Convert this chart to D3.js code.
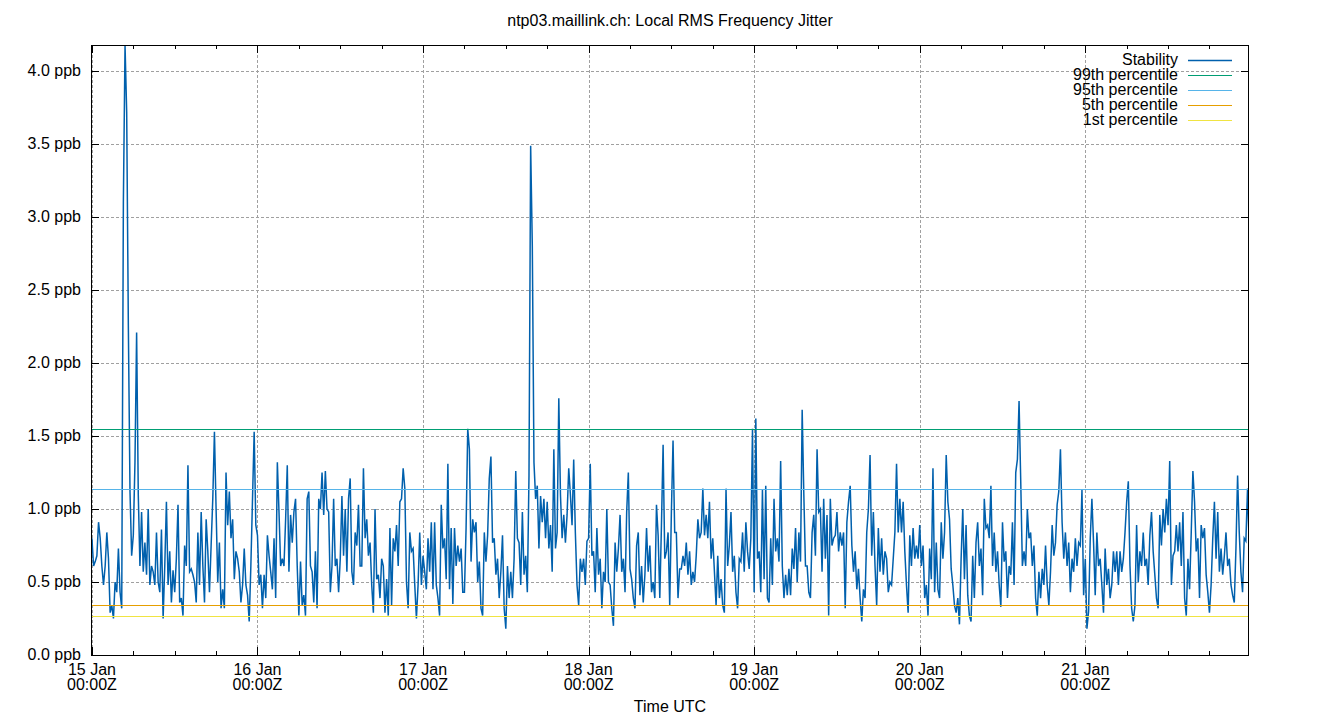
<!DOCTYPE html>
<html>
<head>
<meta charset="utf-8">
<script src="https://cdn.jsdelivr.net/npm/d3@7"></script>
<style>
  body { margin: 0; background: #fff; }
  svg text { font-family: "Liberation Sans", Arial, sans-serif; font-size: 16px; fill: #000; }
</style>
</head>
<body>
<div id="area"></div>
<script>
// stability values (ppb), 100 samples per day
var day15 = [0.80,0.61,0.64,0.68,0.91,0.80,0.61,0.48,0.61,0.84,0.66,0.29,0.34,0.25,0.50,0.43,0.73,0.43,0.32,3.11,
             4.18,3.72,2.26,1.12,0.68,0.82,1.32,2.21,1.10,0.61,0.98,0.57,0.77,0.55,1.00,0.48,0.61,0.57,0.48,0.84,
             0.50,0.43,0.86,0.25,0.61,1.05,0.48,0.71,0.36,0.58,0.43,0.66,1.03,0.36,0.39,0.27,0.75,0.61,1.30,0.57,
             0.59,0.55,0.50,0.36,0.84,0.48,0.98,0.61,0.36,0.93,0.71,0.43,0.75,1.07,1.53,1.00,0.50,0.77,0.32,0.45,
             0.32,1.25,0.89,1.12,0.80,0.93,0.52,0.71,0.66,0.57,0.36,0.48,0.73,0.48,0.41,0.23,0.61,1.07,1.53,0.89];
var day16 = [0.82,0.48,0.55,0.32,0.55,0.39,0.82,0.68,0.57,0.45,0.80,0.39,1.32,0.98,0.61,0.66,0.61,0.93,1.30,0.57,
             0.96,0.77,0.98,1.07,0.61,0.27,0.64,0.34,0.41,0.27,1.07,1.12,0.61,0.57,0.36,0.71,0.32,1.07,1.00,1.25,
             0.96,1.26,1.00,0.98,0.43,0.61,1.07,0.61,0.66,0.43,0.66,1.09,0.68,1.00,0.57,1.07,1.21,0.57,0.48,0.84,
             0.75,1.03,0.61,0.61,1.28,0.80,0.93,0.68,0.77,0.48,0.29,1.00,0.52,0.55,0.39,0.66,0.61,0.29,0.52,0.27,
             0.87,0.34,0.80,0.71,0.89,0.61,1.05,1.07,1.28,1.14,0.50,0.32,0.84,0.71,0.73,0.48,0.25,0.48,0.84,0.48];
var day17 = [0.68,0.57,0.45,0.80,0.57,0.91,0.45,0.91,0.48,0.39,0.27,1.03,0.73,0.80,0.52,1.31,0.45,0.87,0.35,0.87,
             0.61,0.75,0.64,0.73,0.43,0.43,0.87,1.55,1.41,0.64,0.93,0.84,0.91,0.50,0.64,0.32,0.27,0.84,0.64,0.82,
             1.21,1.36,0.77,0.80,0.55,0.66,0.39,0.57,0.82,0.32,0.18,0.61,0.39,0.57,0.39,0.66,1.26,0.80,0.77,0.48,
             0.98,0.55,0.68,0.43,1.23,3.49,2.80,1.32,1.07,1.16,0.73,1.09,0.91,1.07,0.80,1.05,0.73,0.89,0.57,1.41,
             0.73,0.84,1.76,1.10,0.80,0.96,0.77,0.96,1.28,1.10,0.89,1.34,0.84,0.48,0.34,0.66,0.57,0.66,0.48,0.78];
var day18 = [0.80,1.31,0.68,0.71,0.43,0.87,0.55,0.66,0.32,0.57,0.50,1.00,0.50,0.48,0.32,0.20,0.77,0.57,0.73,0.96,
             0.57,0.66,0.43,0.98,1.25,0.59,0.52,0.39,0.32,0.75,0.84,0.41,0.61,0.36,0.55,0.87,0.57,0.75,0.43,0.50,
             0.39,1.03,0.82,0.39,0.89,1.44,0.66,0.71,0.84,0.34,0.98,1.47,0.84,0.84,0.39,0.59,0.59,0.68,0.61,0.77,
             0.55,0.71,0.48,0.57,0.50,0.68,0.93,0.80,0.84,1.14,0.82,0.96,0.80,1.05,0.66,0.80,0.57,0.34,0.68,0.39,
             0.52,0.34,0.29,1.14,0.61,0.75,0.98,0.57,0.68,0.43,0.32,0.66,0.64,0.84,0.57,0.91,0.71,0.59,0.80,1.55];
var day19 = [0.43,1.62,0.66,0.71,0.43,1.13,0.52,1.16,0.39,0.36,0.80,0.48,1.07,0.71,0.80,0.64,1.33,0.61,0.39,0.55,
             0.41,0.59,0.41,0.73,0.59,0.87,0.50,0.84,0.64,1.68,1.10,0.61,0.61,0.43,0.39,0.84,0.96,0.68,1.41,0.98,
             1.00,0.57,1.07,0.66,0.96,0.27,1.07,0.75,0.80,0.82,0.98,0.71,0.84,0.75,0.84,0.32,0.91,1.05,1.16,0.75,
             0.57,0.71,0.45,0.59,0.39,0.23,0.45,0.39,0.84,1.00,1.37,0.68,0.98,0.61,0.34,0.87,0.57,0.80,0.55,0.71,
             0.66,0.43,0.50,0.48,0.66,0.84,1.31,0.84,1.07,0.84,1.05,0.71,0.48,0.29,0.82,0.61,0.87,0.66,0.75,0.66];
var day20 = [0.89,0.61,0.75,0.39,0.48,0.27,0.73,0.52,1.28,0.43,0.77,0.45,0.39,0.91,0.66,0.84,1.37,1.05,0.93,0.59,
             0.48,0.34,0.29,0.39,0.21,0.66,1.00,0.52,0.89,0.41,0.27,0.23,0.68,0.39,0.77,0.91,0.61,0.73,0.41,1.07,
             0.87,0.89,0.80,1.16,0.61,0.84,0.57,0.71,0.48,0.33,0.91,0.64,0.71,0.39,0.61,0.55,0.91,0.48,1.25,1.34,
             1.74,1.20,0.61,0.71,0.61,1.00,0.80,0.84,0.61,0.75,0.39,0.27,0.57,0.39,0.59,0.48,0.75,0.48,0.34,0.57,
             0.89,0.68,0.77,1.03,1.12,1.41,0.91,0.66,0.84,0.61,0.77,0.43,0.66,0.57,0.80,0.61,0.77,0.75,1.13,0.41];
var day21 = [0.66,0.18,0.30,0.80,1.07,0.77,0.41,0.84,0.61,0.66,0.48,0.29,0.73,0.48,0.59,0.39,0.48,0.71,0.57,0.71,
             0.48,0.71,0.57,0.66,0.84,1.05,1.19,0.61,0.32,0.23,0.34,0.89,0.50,0.71,0.61,0.84,0.61,0.66,0.48,0.82,
             0.98,0.71,0.55,0.39,0.32,0.96,0.75,1.00,0.84,1.07,0.89,1.33,0.48,0.68,0.71,0.89,0.71,0.91,0.61,0.98,
             0.39,0.27,0.66,0.45,0.84,1.26,1.05,0.71,0.80,0.39,0.89,0.80,0.87,0.55,0.43,0.29,0.48,0.80,1.05,0.66,
             0.98,0.57,0.73,0.55,0.68,0.84,0.61,0.66,0.48,0.41,0.36,0.73,1.23,0.84,0.57,0.43,0.80,0.78,1.14,0.75];

var days = [day15, day16, day17, day18, day19, day20, day21];
var firstDay = Date.UTC(2024, 0, 15);
var domainStart = Date.UTC(2024, 0, 14, 23, 52);
var domainEnd = Date.UTC(2024, 0, 21, 23, 44);

var percentileNames = ["99th percentile", "95th percentile", "5th percentile", "1st percentile"];
var percentileValues = [1.548, 1.137, 0.342, 0.267];
var percentileColors = ["#009e73", "#56b4e9", "#e69f00", "#f0e442"];
var stabilityColor = "#0060ad";

var yTicks = [0, 0.5, 1.0, 1.5, 2.0, 2.5, 3.0, 3.5, 4.0];
var yMax = 4.18;

var W = 1340, H = 720;
var margin_left = 91, margin_right = 91, margin_top = 45, margin_bottom = 65;
var DAY = 864e5;

var svg = d3.select("#area").append("svg")
  .attr("width", W).attr("height", H);

var x = d3.scaleUtc()
  .domain([new Date(domainStart), new Date(domainEnd)])
  .range([margin_left, W - margin_right]);
var y = d3.scaleLinear()
  .domain([0, yMax])
  .range([H - margin_bottom, margin_top]);

var data = [];
days.forEach(function(vals, d) {
  vals.forEach(function(v, j) {
    data.push({ t: new Date(firstDay + d * DAY + j * DAY / vals.length), v: v });
  });
});

var dayTicks = d3.utcDay.range(new Date(firstDay), new Date(domainEnd));
var minorTicks = d3.utcHour.every(6).range(new Date(domainStart), new Date(domainEnd))
  .filter(function(d) { return d.getUTCHours() != 0; });

svg.append("defs").append("clipPath").attr("id", "clip")
  .append("rect")
  .attr("x", margin_left).attr("y", margin_top)
  .attr("width", W - margin_left - margin_right)
  .attr("height", H - margin_top - margin_bottom);

// grid
var grid = svg.append("g").attr("stroke", "#a0a0a0").attr("stroke-width", 1).attr("stroke-dasharray", "3,2");
grid.selectAll(".gy").data(yTicks.slice(1)).enter().append("line")
  .attr("x1", margin_left).attr("x2", W - margin_right)
  .attr("y1", function(d) { return Math.round(y(d)) + 0.5; })
  .attr("y2", function(d) { return Math.round(y(d)) + 0.5; });
grid.selectAll(".gx").data(dayTicks).enter().append("line")
  .attr("y1", margin_top).attr("y2", H - margin_bottom)
  .attr("x1", function(d) { return Math.round(x(d)) + 0.5; })
  .attr("x2", function(d) { return Math.round(x(d)) + 0.5; });

// stability line
svg.append("path")
  .datum(data)
  .attr("clip-path", "url(#clip)")
  .attr("fill", "none")
  .attr("stroke", stabilityColor)
  .attr("stroke-width", 1.5)
  .attr("stroke-linejoin", "miter")
  .attr("d", d3.line().x(function(d) { return x(d.t); }).y(function(d) { return y(d.v); }));

// percentile lines
svg.selectAll(".pct").data(percentileValues).enter().append("line")
  .attr("x1", margin_left).attr("x2", W - margin_right)
  .attr("y1", function(d) { return Math.round(y(d)) + 0.5; })
  .attr("y2", function(d) { return Math.round(y(d)) + 0.5; })
  .attr("stroke", function(d, i) { return percentileColors[i]; })
  .attr("stroke-width", 1);

// border and ticks
var axes = svg.append("g").attr("stroke", "#000").attr("stroke-width", 1);
axes.append("rect")
  .attr("x", margin_left + 0.5).attr("y", margin_top + 0.5)
  .attr("width", W - margin_left - margin_right - 1)
  .attr("height", H - margin_top - margin_bottom)
  .attr("fill", "none");

function xTickLines(ticks, len) {
  ticks.forEach(function(d) {
    var px = Math.round(x(d)) + 0.5;
    axes.append("line").attr("x1", px).attr("x2", px).attr("y1", H - margin_bottom).attr("y2", H - margin_bottom - len);
    axes.append("line").attr("x1", px).attr("x2", px).attr("y1", margin_top).attr("y2", margin_top + len);
  });
}
xTickLines(dayTicks, 8);
xTickLines(minorTicks, 4);
yTicks.forEach(function(d) {
  var py = Math.round(y(d)) + 0.5;
  axes.append("line").attr("x1", margin_left).attr("x2", margin_left + 8).attr("y1", py).attr("y2", py);
  axes.append("line").attr("x1", W - margin_right).attr("x2", W - margin_right - 8).attr("y1", py).attr("y2", py);
});

// tick labels
svg.selectAll(".yl").data(yTicks).enter().append("text")
  .attr("x", margin_left - 10)
  .attr("y", function(d) { return y(d) + 5; })
  .attr("text-anchor", "end")
  .text(function(d) { return d3.format(".1f")(d) + " ppb"; });

var fmtDay = d3.utcFormat("%-d %b");
var xl = svg.selectAll(".xl").data(dayTicks).enter().append("text")
  .attr("text-anchor", "middle");
xl.append("tspan")
  .attr("x", function(d) { return x(d); }).attr("y", H - margin_bottom + 20)
  .text(function(d) { return fmtDay(d); });
xl.append("tspan")
  .attr("x", function(d) { return x(d); }).attr("y", H - margin_bottom + 35)
  .text(function(d) { return d3.utcFormat("%H:%M")(d) + "Z"; });

svg.append("text")
  .attr("x", (margin_left + W - margin_right) / 2).attr("y", H - 8)
  .attr("text-anchor", "middle")
  .text("Time UTC");

svg.append("text")
  .attr("x", W / 2).attr("y", 26)
  .attr("text-anchor", "middle")
  .text("ntp03.maillink.ch: Local RMS Frequency Jitter");

// legend
var legendNames = ["Stability"].concat(percentileNames);
var legendColors = [stabilityColor].concat(percentileColors);
var legend = svg.append("g");
legendNames.forEach(function(name, i) {
  var ly = 60 + i * 15;
  legend.append("text").attr("x", 1178).attr("y", ly + 5).attr("text-anchor", "end").text(name);
  legend.append("line")
    .attr("x1", 1188).attr("x2", 1232)
    .attr("y1", ly + 0.5).attr("y2", ly + 0.5)
    .attr("stroke", legendColors[i]).attr("stroke-width", i == 0 ? 1.5 : 1);
});
</script>
</body>
</html>
